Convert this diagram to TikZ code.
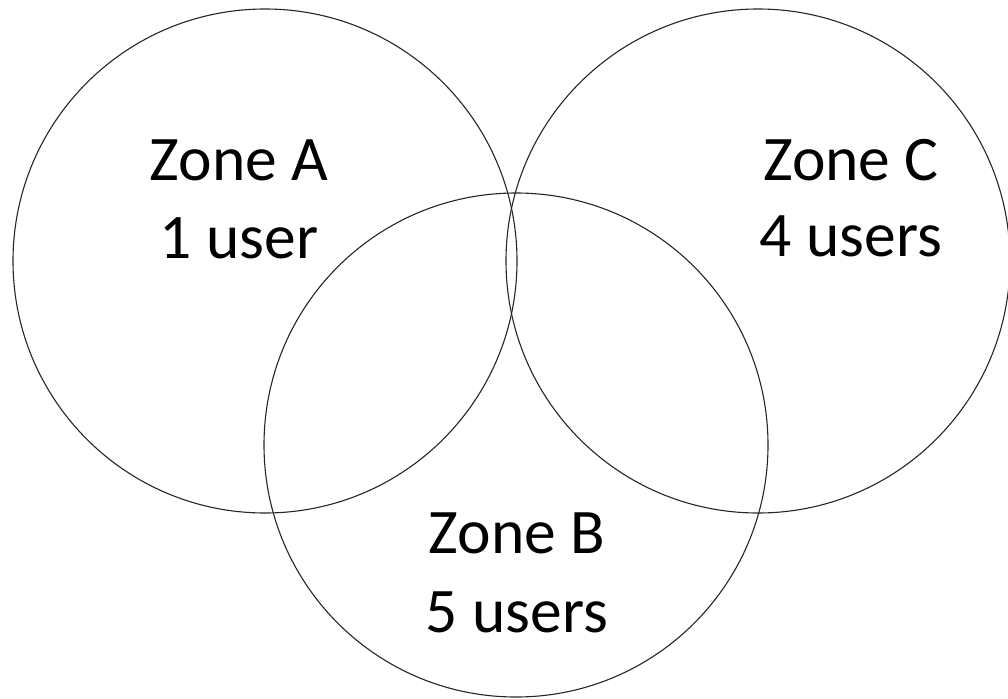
\documentclass[tikz,border=0pt]{standalone}
\usepackage{fontspec}
\setmainfont{Carlito}
\usetikzlibrary{positioning}

\begin{document}
\begin{tikzpicture}[x=1pt,y=-1pt,
    zone/.style = {draw=black!85, line width=1.1pt, circle, minimum size=504pt, inner sep=0pt},
    zonetext/.style = {anchor=base, inner sep=0pt, font=\fontsize{63.5}{74}\selectfont}]
\useasboundingbox (0,0) rectangle (1008,698);
\node[zone] (zoneA) at (265,261) {};
\node[zone] (zoneC) at (758,261) {};
\node[zone] (zoneB) at (516,445) {};
\node[zonetext] (nameA) at (239,180) {Zone A};
\node[zonetext] (countA) at (239,258) {1 user};
\node[zonetext] (nameC) at (851,180) {Zone C};
\node[zonetext] (countC) at (851,256) {4 users};
\node[zonetext] (nameB) at (517,553) {Zone B};
\node[zonetext] (countB) at (517,632) {5 users};
\end{tikzpicture}
\end{document}
